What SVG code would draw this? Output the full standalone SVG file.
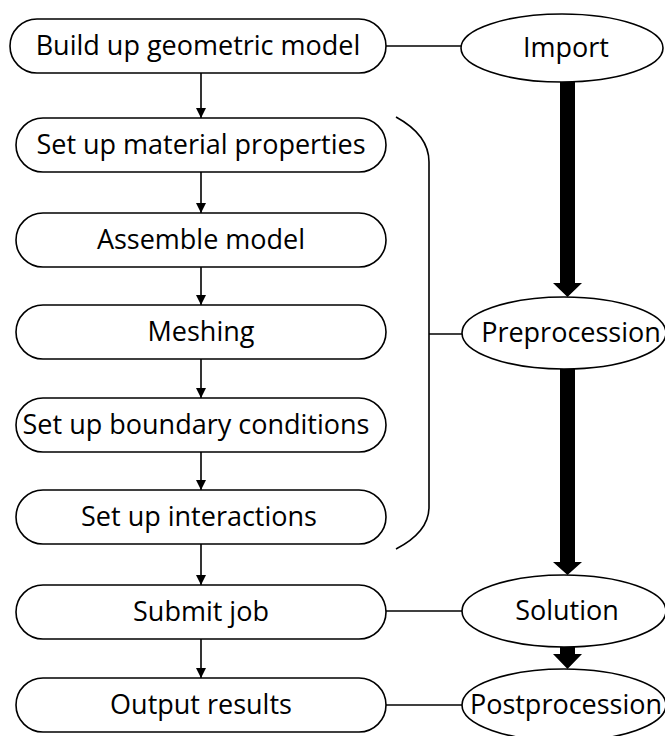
<svg xmlns="http://www.w3.org/2000/svg" width="665" height="736" viewBox="0 0 665 736">
<defs>
<style>
.box{fill:#fff;stroke:#000;stroke-width:1.6}
.ell{fill:#fff;stroke:#000;stroke-width:1.6}
.t{font-family:"Open Sans","Noto Sans",sans-serif;font-size:27px;fill:#000;text-anchor:middle}
.ln{fill:none;stroke:#000;stroke-width:1.6}
.thick{fill:#000;stroke:none}
</style>
<marker id="ah" viewBox="0 0 10 10" refX="10" refY="5" markerWidth="10" markerHeight="10" markerUnits="userSpaceOnUse" orient="auto">
<path d="M0,0 L10,5 L0,10 z" fill="#000"/>
</marker>
</defs>
<rect width="665" height="736" fill="#fff"/>
<g id="connectors">
<line class="ln" x1="201" y1="73" x2="201" y2="118" marker-end="url(#ah)"/>
<line class="ln" x1="201" y1="172" x2="201" y2="213" marker-end="url(#ah)"/>
<line class="ln" x1="201" y1="267" x2="201" y2="305" marker-end="url(#ah)"/>
<line class="ln" x1="201" y1="359" x2="201" y2="398" marker-end="url(#ah)"/>
<line class="ln" x1="201" y1="452" x2="201" y2="490" marker-end="url(#ah)"/>
<line class="ln" x1="201" y1="544" x2="201" y2="585" marker-end="url(#ah)"/>
<line class="ln" x1="201" y1="639" x2="201" y2="678" marker-end="url(#ah)"/>
<line class="ln" x1="386" y1="46" x2="461" y2="46"/>
<line class="ln" x1="386" y1="611" x2="462" y2="611"/>
<line class="ln" x1="386" y1="705" x2="462" y2="705"/>
<path class="ln" d="M396,117 Q429,135 429,162 L429,507 Q429,532 396,549"/>
<line class="ln" x1="429" y1="334" x2="462" y2="334"/>
<path class="thick" d="M560,82 L575,82 L575,283 L582,283 L567.5,297 L553,283 L560,283 z"/>
<path class="thick" d="M560,369 L575,369 L575,562 L582,562 L567.5,575 L553,562 L560,562 z"/>
<path class="thick" d="M560,647 L575,647 L575,654 L582,654 L567.5,669 L553,654 L560,654 z"/>
</g>
<g id="n1"><rect class="box" x="10" y="19" width="376" height="54" rx="27"/><text class="t" x="198" y="55">Build up geometric model</text></g>
<g id="n2"><rect class="box" x="16" y="118" width="370" height="54" rx="27"/><text class="t" x="201" y="154">Set up material properties</text></g>
<g id="n3"><rect class="box" x="16" y="213" width="370" height="54" rx="27"/><text class="t" x="201" y="249">Assemble model</text></g>
<g id="n4"><rect class="box" x="16" y="305" width="370" height="54" rx="27"/><text class="t" x="201" y="341">Meshing</text></g>
<g id="n5"><rect class="box" x="16" y="398" width="370" height="54" rx="27"/><text class="t" x="196" y="434">Set up boundary conditions</text></g>
<g id="n6"><rect class="box" x="16" y="490" width="370" height="54" rx="27"/><text class="t" x="199" y="526">Set up interactions</text></g>
<g id="n7"><rect class="box" x="16" y="585" width="370" height="54" rx="27"/><text class="t" x="201" y="621">Submit job</text></g>
<g id="n8"><rect class="box" x="16" y="678" width="370" height="54" rx="27"/><text class="t" x="201" y="714">Output results</text></g>
<g id="import"><ellipse class="ell" cx="562" cy="48" rx="101" ry="34"/><text class="t" x="566" y="57">Import</text></g>
<g id="pre"><ellipse class="ell" cx="564" cy="333" rx="102" ry="36"/><text class="t" x="571" y="342">Preprocession</text></g>
<g id="sol"><ellipse class="ell" cx="564" cy="611" rx="102" ry="36"/><text class="t" x="567" y="620">Solution</text></g>
<g id="post"><ellipse class="ell" cx="564" cy="705" rx="102" ry="36"/><text class="t" x="566" y="714">Postprocession</text></g>
</svg>
